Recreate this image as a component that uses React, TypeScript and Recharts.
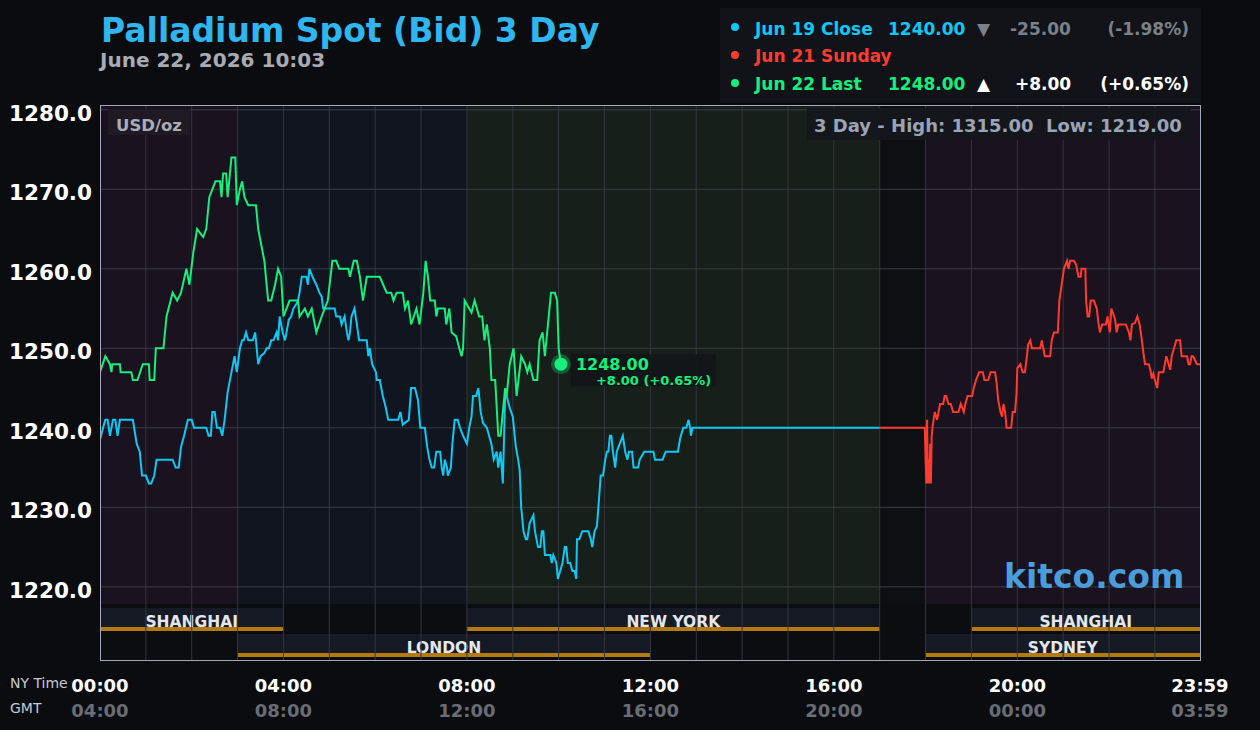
import React from 'react';
import { LineChart, Line, XAxis, YAxis, ReferenceArea, ReferenceLine, ReferenceDot } from 'recharts';

// time in minutes after 00:00 NY time, price in USD/oz
const closeTimes = [0, 4, 7, 10, 13, 17, 20, 23, 26, 43, 48, 52, 55, 60, 64, 67, 71, 74, 95, 99, 103, 106, 110, 115, 120, 123, 139, 142, 145, 147, 150, 153, 157, 160, 163, 167, 172, 176, 179, 183, 186, 188, 191, 194, 200, 203, 205, 207, 210, 215, 218, 221, 224, 227, 231, 233, 235, 239, 242, 244, 247, 250, 253, 257, 259, 261, 264, 270, 272, 274, 278, 283, 287, 290, 292, 307, 309, 314, 316, 320, 323, 325, 327, 329, 333, 336, 339, 349, 351, 353, 356, 361, 362, 366, 370, 374, 377, 390, 393, 396, 404, 407, 412, 416, 419, 425, 428, 431, 434, 437, 440, 445, 447, 449, 451, 454, 455, 459, 461, 464, 468, 471, 475, 480, 483, 486, 488, 492, 495, 497, 498, 501, 506, 509, 512, 515, 519, 521, 524, 527, 530, 532, 536, 540, 544, 547, 549, 551, 554, 557, 559, 562, 567, 569, 573, 576, 578, 580, 582, 589, 591, 593, 597, 599, 602, 605, 608, 610, 612, 615, 618, 621, 623, 624, 627, 631, 639, 642, 644, 647, 650, 652, 655, 658, 661, 663, 665, 667, 669, 671, 674, 676, 680, 684, 687, 690, 692, 696, 698, 704, 706, 712, 724, 726, 736, 740, 756, 759, 763, 767, 770, 772, 773, 775, 1020];
const closeValues = [1238.5, 1240, 1241, 1241, 1239, 1241, 1241, 1239, 1241, 1241, 1238, 1237, 1234, 1234, 1233, 1233, 1234, 1236, 1236, 1235, 1235, 1237.6, 1239, 1241, 1241, 1240, 1240, 1239, 1239, 1242, 1242, 1240, 1240, 1239, 1241, 1244.5, 1247, 1249, 1247, 1250, 1251, 1251, 1252, 1251, 1251, 1252, 1250, 1248, 1249, 1249.4, 1250, 1250, 1251, 1251, 1252, 1251, 1254, 1252, 1251, 1252, 1253.6, 1254, 1255, 1255.6, 1256, 1257, 1259, 1259, 1258, 1260, 1259, 1258, 1257, 1256.5, 1255, 1255, 1254, 1254, 1253, 1254, 1252, 1251, 1252, 1254, 1255, 1253, 1251, 1251, 1249, 1250, 1248, 1247, 1246, 1246, 1244, 1242.5, 1241, 1241, 1242, 1240.4, 1241, 1245, 1245, 1243.5, 1240, 1240, 1237.6, 1236, 1235, 1235, 1237, 1237, 1235, 1234, 1236, 1235, 1234, 1235, 1238, 1241, 1241, 1240, 1239, 1238, 1240, 1241.4, 1244, 1244, 1245, 1243, 1242, 1240.6, 1240, 1239, 1238, 1236, 1237, 1235, 1237, 1233, 1244, 1244, 1242.5, 1241.4, 1237.6, 1236, 1234.7, 1230, 1227, 1226, 1226, 1228, 1229, 1227, 1225, 1225, 1227, 1227, 1224, 1224, 1223, 1224, 1223, 1221, 1222, 1223, 1225, 1225, 1223, 1223, 1222, 1222, 1221, 1226, 1226, 1227, 1227, 1226, 1225, 1227, 1227.6, 1230, 1234, 1234, 1236, 1237, 1237, 1239, 1239, 1237, 1235, 1237, 1238, 1239, 1237, 1236, 1237, 1237, 1235, 1235, 1236, 1237, 1237, 1236, 1236, 1237, 1237, 1238.7, 1240, 1240, 1241, 1240, 1239, 1240, 1240];

const sundayTimes = [1020, 1079, 1080, 1081, 1082, 1083, 1084, 1085, 1086, 1087, 1088, 1089, 1092, 1095, 1097, 1099, 1103, 1105, 1107, 1110, 1113, 1116, 1123, 1126, 1130, 1132, 1135, 1141, 1143, 1146, 1150, 1155, 1157, 1162, 1165, 1171, 1173, 1175, 1178, 1180, 1182, 1184, 1186, 1192, 1194, 1197, 1199, 1200, 1204, 1207, 1210, 1213, 1214, 1217, 1219, 1230, 1232, 1234, 1236, 1243, 1245, 1248, 1253, 1255, 1258, 1261, 1265, 1267, 1269, 1274, 1277, 1280, 1283, 1284, 1289, 1290, 1292, 1294, 1296, 1300, 1304, 1306, 1308, 1311, 1316, 1318, 1321, 1323, 1325, 1328, 1330, 1332, 1342, 1346, 1348, 1350, 1354, 1357, 1360, 1363, 1365, 1367, 1372, 1374, 1376, 1378, 1380, 1383, 1385, 1391, 1395, 1398, 1400, 1402, 1405, 1408, 1413, 1415, 1422, 1424, 1426, 1428, 1430, 1435, 1439];
const sundayValues = [1240, 1240, 1236, 1233, 1241, 1233, 1236, 1233, 1238, 1233, 1239, 1240, 1242, 1241, 1242, 1243, 1243, 1244, 1244, 1243, 1243, 1242, 1242, 1243, 1242, 1243, 1244, 1244, 1245, 1246, 1247, 1247, 1246, 1246, 1247, 1247, 1245.6, 1243.5, 1242, 1241.4, 1243, 1242, 1240, 1240, 1242, 1242, 1244.3, 1247.5, 1248, 1247, 1247, 1249.4, 1250.4, 1251, 1250, 1250, 1251, 1250, 1249, 1249, 1251, 1252, 1252, 1256, 1258, 1260, 1261, 1260, 1261, 1261, 1260.5, 1259, 1259, 1260, 1260, 1256, 1254, 1254, 1256, 1256, 1255, 1253.3, 1252, 1253, 1253, 1254, 1252, 1255, 1254.5, 1253.6, 1252, 1253, 1253, 1252, 1251, 1253, 1253.2, 1254, 1253, 1251, 1249.4, 1248, 1248, 1247.3, 1246.2, 1246.8, 1246, 1245, 1247, 1247, 1249, 1248, 1247.3, 1249, 1250, 1251, 1251, 1249, 1249, 1248, 1248, 1249, 1249, 1248, 1248];

const lastTimes = [0, 7, 13, 15, 16, 26, 27, 41, 43, 49, 56, 64, 65, 71, 73, 83, 87, 95, 101, 106, 113, 117, 122, 127, 135, 139, 143, 151, 157, 159, 161, 165, 167, 172, 177, 179, 183, 186, 189, 194, 204, 207, 211, 215, 220, 224, 229, 233, 237, 240, 244, 248, 259, 261, 268, 272, 277, 283, 290, 298, 304, 309, 313, 325, 327, 332, 336, 340, 344, 349, 366, 375, 381, 384, 388, 396, 399, 403, 407, 414, 418, 423, 426, 429, 432, 438, 440, 442, 451, 453, 457, 460, 466, 470, 473, 475, 477, 486, 490, 496, 500, 503, 506, 510, 512, 517, 521, 524, 527, 530, 532, 536, 541, 545, 551, 556, 559, 562, 567, 572, 575, 579, 582, 585, 590, 595, 598, 600, 603];
const lastValues = [1247, 1249, 1248, 1247, 1248, 1248, 1247, 1247, 1246, 1246, 1248, 1248, 1246, 1246, 1250, 1250, 1254, 1257, 1256, 1257, 1260, 1258, 1262, 1265, 1264, 1265, 1269, 1271, 1271, 1269, 1272, 1272, 1269, 1274, 1274, 1268, 1270, 1271, 1269, 1268, 1268, 1265, 1263, 1261, 1256, 1256, 1258, 1260, 1259, 1254, 1255, 1256, 1256, 1254, 1255, 1254, 1255, 1252, 1254, 1256, 1261, 1261, 1260, 1260, 1259, 1261, 1261, 1259, 1256, 1259, 1259, 1257, 1257, 1256, 1257, 1257, 1255, 1256, 1253, 1255, 1253, 1257, 1261, 1259, 1256, 1256, 1254, 1255, 1255, 1253, 1255, 1252, 1251.5, 1250, 1249, 1250, 1256, 1254.5, 1256, 1254, 1254, 1251, 1253, 1250, 1246, 1246, 1239, 1239, 1242, 1245, 1244, 1248, 1250, 1244, 1249, 1248, 1247, 1248, 1246, 1246, 1251, 1252, 1249, 1252, 1257, 1257, 1256, 1250, 1248];

const lastTime = 603;
const lastPrice = 1248;

const hourTicks = [0, 240, 480, 720, 960, 1200, 1439];
const nyLabels = ['00:00', '04:00', '08:00', '12:00', '16:00', '20:00', '23:59'];
const gmtLabels = ['04:00', '08:00', '12:00', '16:00', '20:00', '00:00', '03:59'];
const priceTicks = [1220, 1230, 1240, 1250, 1260, 1270, 1280];
const gridHours = [60, 120, 180, 240, 300, 360, 420, 480, 540, 600, 660, 720, 780, 840, 900, 960, 1020, 1080, 1140, 1200, 1260, 1320, 1380];

const zoneStarts = [0, 180, 480, 1020, 1080];
const zoneEnds = [180, 480, 1020, 1080, 1439];
const zoneFills = ['#1a121f', '#11151f', '#161f19', '#0e0f12', '#1a121f'];

const sessionNames = ['SHANGHAI', 'LONDON', 'NEW YORK', 'SHANGHAI', 'SYDNEY'];
const sessionStarts = [0, 180, 480, 1140, 1080];
const sessionEnds = [240, 720, 1020, 1439, 1439];
const sessionRows = [0, 1, 0, 0, 1];

const W = 1260;
const H = 730;
const PLOT_TOP = 105;
const PLOT_BOTTOM = 660;
const PLOT_LEFT = 100;
const PLOT_RIGHT = 1200;
const Y_MIN = 1210.8;
const Y_MAX = 1280.6;
const FONT = '"DejaVu Sans", Verdana, sans-serif';

const BLUE = '#0fc8f4';
const RED = '#ff3b30';
const GREEN = '#16ef7d';

// convert a pixel row inside the plot into price units (for the session bands under the data)
const pxToVal = (py: number) => Y_MAX - ((py - PLOT_TOP) * (Y_MAX - Y_MIN)) / (PLOT_BOTTOM - PLOT_TOP);

const rowTop = [608, 634];
const rowBottom = [631, 657];

const zip = (ts: number[], vs: number[]) => ts.map((t, i) => ({ t, v: vs[i] }));
const closeData = zip(closeTimes, closeValues);
const sundayData = zip(sundayTimes, sundayValues);
const lastData = zip(lastTimes, lastValues);

const XTick = (props: any) => {
  const { x, y, payload } = props;
  const i = hourTicks.indexOf(payload.value);
  return (
    <g>
      <text x={x} y={y + 32} textAnchor="middle" fill="#ffffff" fontSize={18} fontWeight={700} fontFamily={FONT}>
        {nyLabels[i]}
      </text>
      <text x={x} y={y + 57} textAnchor="middle" fill="#6a6d74" fontSize={18} fontWeight={700} fontFamily={FONT}>
        {gmtLabels[i]}
      </text>
    </g>
  );
};

const YTick = (props: any) => {
  const { x, y, payload } = props;
  return (
    <text x={x} y={y + 11} textAnchor="end" fill="#ffffff" fontSize={21.5} fontWeight={700} fontFamily={FONT}>
      {Number(payload.value).toFixed(1)}
    </text>
  );
};

const LastMarker = (props: any) => {
  const { cx, cy } = props;
  return (
    <g>
      <circle cx={cx} cy={cy} r={10} fill={GREEN} fillOpacity={0.28} />
      <circle cx={cx} cy={cy} r={6.5} fill={GREEN} />
      <rect x={cx + 10} y={cy - 10} width={145} height={32} fill="#12151a" fillOpacity={0.9} />
      <text x={cx + 15} y={cy + 6} fill={GREEN} fontSize={16} fontWeight={700} fontFamily={FONT}>
        {lastPrice.toFixed(2)}
      </text>
      <text x={cx + 35} y={cy + 20.5} fill={GREEN} fontSize={13} fontWeight={700} fontFamily={FONT}>
        +8.00 (+0.65%)
      </text>
    </g>
  );
};

const sessionLabel = (name: string) => (p: any) => {
  const vb = p.viewBox;
  return (
    <text x={vb.x + vb.width / 2} y={vb.y + 19} textAnchor="middle" fill="#e4e7ee" fontSize={15.5} fontWeight={700} fontFamily={FONT}>
      {name}
    </text>
  );
};

const Overlay = () => (
  <svg width={W} height={H} style={{ position: 'absolute', left: 0, top: 0, pointerEvents: 'none' }} fontFamily={FONT}>
    <rect x={PLOT_LEFT + 0.5} y={PLOT_TOP + 0.5} width={PLOT_RIGHT - PLOT_LEFT} height={PLOT_BOTTOM - PLOT_TOP} fill="none" stroke="#a1a9bb" strokeWidth={1} />
    <text x={101} y={42} fill="#2fb6ee" fontSize={33} fontWeight={700}>Palladium Spot (Bid) 3 Day</text>
    <text x={100} y={67} fill="#a8abb3" fontSize={20} fontWeight={700}>June 22, 2026 10:03</text>

    <rect x={720} y={8} width={481} height={95} fill="#111318" />
    <circle cx={735} cy={27} r={4} fill={BLUE} />
    <text x={755} y={35} fill={BLUE} fontSize={17} fontWeight={700}>Jun 19 Close</text>
    <text x={888} y={35} fill={BLUE} fontSize={17} fontWeight={700}>1240.00</text>
    <text x={977} y={35} fill="#7b8089" fontSize={17} fontWeight={700}>▼</text>
    <text x={1010} y={35} fill="#7b8089" fontSize={17} fontWeight={700}>-25.00</text>
    <text x={1189} y={35} fill="#7b8089" fontSize={17} fontWeight={700} textAnchor="end">(-1.98%)</text>
    <circle cx={735} cy={55} r={4} fill={RED} />
    <text x={755} y={62} fill={RED} fontSize={17} fontWeight={700}>Jun 21 Sunday</text>
    <circle cx={735} cy={83} r={4} fill={GREEN} />
    <text x={755} y={90} fill={GREEN} fontSize={17} fontWeight={700}>Jun 22 Last</text>
    <text x={888} y={90} fill={GREEN} fontSize={17} fontWeight={700}>1248.00</text>
    <text x={977} y={90} fill="#ffffff" fontSize={17} fontWeight={700}>▲</text>
    <text x={1015} y={90} fill="#ffffff" fontSize={17} fontWeight={700}>+8.00</text>
    <text x={1189} y={90} fill="#ffffff" fontSize={17} fontWeight={700} textAnchor="end">(+0.65%)</text>

    <rect x={108} y={109} width={82} height={26} fill="#201a25" />
    <text x={116} y={131} fill="#a9adb7" fontSize={16.5} fontWeight={700}>USD/oz</text>
    <rect x={807} y={108} width={384} height={32} fill="#15171c" fillOpacity={0.92} />
    <text x={814} y={132} fill="#9aa4b6" fontSize={18} fontWeight={700}>{'3 Day - High: 1315.00\u00a0 Low: 1219.00'}</text>

    <text x={1004} y={588} fill="#4a9ddb" fontSize={33} fontWeight={700}>kitco.com</text>

    <text x={10} y={688} fill="#c5c9d1" fontSize={14}>NY Time</text>
    <text x={10} y={713} fill="#c5c9d1" fontSize={14}>GMT</text>
  </svg>
);

export default function App() {
  return (
    <div style={{ position: 'absolute', left: 0, top: 0, width: W, height: H, background: '#0b0c10', overflow: 'hidden' }}>
      <LineChart width={W} height={H} margin={{ top: PLOT_TOP, right: W - PLOT_RIGHT, bottom: 0, left: 0 }}>
        <XAxis
          type="number"
          dataKey="t"
          domain={[0, 1439]}
          ticks={hourTicks}
          interval={0}
          allowDataOverflow
          axisLine={false}
          tickLine={false}
          tickSize={0}
          tickMargin={0}
          height={H - PLOT_BOTTOM}
          tick={<XTick />}
        />
        <YAxis
          type="number"
          domain={[Y_MIN, Y_MAX]}
          ticks={priceTicks}
          allowDataOverflow
          axisLine={false}
          tickLine={false}
          tickSize={0}
          tickMargin={8}
          width={PLOT_LEFT}
          tick={<YTick />}
        />

        {zoneStarts.map((s, i) => (
          <ReferenceArea key={'z' + i} x1={s} x2={zoneEnds[i]} y1={pxToVal(604)} y2={Y_MAX} fill={zoneFills[i]} fillOpacity={1} stroke="none" />
        ))}
        <ReferenceArea x1={0} x2={1439} y1={Y_MIN} y2={pxToVal(604)} fill="#0c0d10" fillOpacity={1} stroke="none" />
        {sessionNames.map((n, i) => (
          <ReferenceArea
            key={'s' + i}
            x1={sessionStarts[i]}
            x2={sessionEnds[i]}
            y1={pxToVal(rowBottom[sessionRows[i]])}
            y2={pxToVal(rowTop[sessionRows[i]])}
            fill="#151a24"
            fillOpacity={1}
            stroke="none"
            label={sessionLabel(n)}
          />
        ))}

        {gridHours.map((h) => (
          <ReferenceLine key={'gx' + h} x={h} stroke="#33363e" strokeWidth={1} />
        ))}
        {priceTicks.map((p) => (
          <ReferenceLine key={'gy' + p} y={p} stroke="#3a3d46" strokeWidth={1} />
        ))}

        {sessionNames.map((n, i) => (
          <ReferenceArea
            key={'o' + i}
            x1={sessionStarts[i]}
            x2={sessionEnds[i]}
            y1={pxToVal(rowBottom[sessionRows[i]])}
            y2={pxToVal(rowBottom[sessionRows[i]] - 4)}
            fill="#b67a12"
            fillOpacity={1}
            stroke="none"
          />
        ))}

        <Line data={closeData} dataKey="v" type="linear" stroke={BLUE} strokeWidth={2} dot={false} isAnimationActive={false} />
        <Line data={sundayData} dataKey="v" type="linear" stroke={RED} strokeWidth={2} dot={false} isAnimationActive={false} />
        <Line data={lastData} dataKey="v" type="linear" stroke={GREEN} strokeWidth={2} dot={false} isAnimationActive={false} />

        <ReferenceDot x={lastTime} y={lastPrice} r={6} shape={<LastMarker />} />
      </LineChart>
      <Overlay />
    </div>
  );
}
